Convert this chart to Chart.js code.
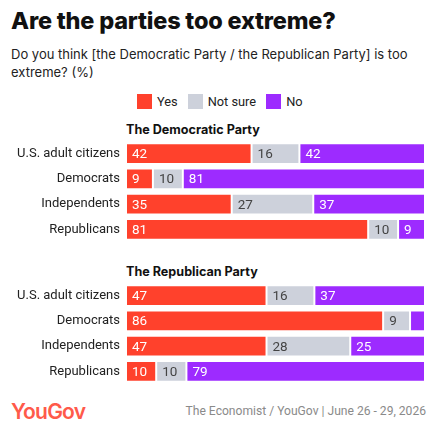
<!DOCTYPE html>
<html>
<head>
<meta charset="utf-8">
<script src="https://cdn.jsdelivr.net/npm/chart.js@4.4.1/dist/chart.umd.min.js"></script>
<style>
  html, body { margin: 0; padding: 0; background: #fff; }
  body { width: 437px; height: 433px; position: relative; overflow: hidden; font-family: Inter, "Noto Sans", sans-serif; color: #111; }
  .title { position: absolute; left: 11px; top: 6px; font-size: 23.5px; font-weight: 800; letter-spacing: -0.2px; }
  .subtitle { position: absolute; left: 11px; top: 45px; width: 420px; font-size: 13px; line-height: 18px; color: #222; }
  .legend { position: absolute; top: 94px; left: 137px; font-family: Roboto, sans-serif; font-size: 12.8px; color: #222; display: flex; align-items: center; }
  .legend span.sw { display: inline-block; width: 15px; height: 15px; margin-right: 5px; }
  .legend .item { display: flex; align-items: center; margin-right: 10px; }
  .section { position: absolute; left: 126px; font-size: 12.6px; font-weight: 700; color: #111; }
  .chartbox { position: absolute; left: 0; width: 437px; height: 101px; }
  .chartbox canvas { display: block; }
  .logo { position: absolute; left: 11px; top: 399px; font-size: 21px; font-weight: 600; color: #ff5a4a; letter-spacing: -0.8px; }
  .source { position: absolute; right: 11px; top: 404px; font-family: Roboto, sans-serif; font-size: 12.1px; color: #8a8a8a; }
</style>
</head>
<body>
<div class="title">Are the parties too extreme?</div>
<div class="subtitle">Do you think [the Democratic Party / the Republican Party] is too extreme? (%)</div>
<div class="legend" id="legend"></div>
<div class="section" style="top:122px">The Democratic Party</div>
<div class="chartbox" style="top:141px"><canvas id="chartDem" width="437" height="101"></canvas></div>
<div class="section" style="top:264px">The Republican Party</div>
<div class="chartbox" style="top:283px"><canvas id="chartRep" width="437" height="101"></canvas></div>
<div class="logo">YouGov</div>
<div class="source">The Economist / YouGov | June 26 - 29, 2026</div>

<script>
const groups = ['U.S. adult citizens', 'Democrats', 'Independents', 'Republicans'];
const seriesNames = ['Yes', 'Not sure', 'No'];
const seriesColors = ['#ff412c', '#cdd1db', '#9d2bff'];
const labelColors = ['#ffffff', '#444444', '#ffffff'];

// The Democratic Party
const demYes = [42, 9, 35, 81];
const demNotSure = [16, 10, 27, 10];
const demNo = [42, 81, 37, 9];

// The Republican Party
const repYes = [47, 86, 47, 10];
const repNotSure = [16, 9, 28, 10];
const repNo = [37, 5, 25, 79];

// legend
const legendEl = document.getElementById('legend');
seriesNames.forEach((name, i) => {
    const item = document.createElement('div');
    item.className = 'item';
    item.innerHTML = `<span class="sw" style="background:${seriesColors[i]}"></span>${name}`;
    legendEl.appendChild(item);
});

// draws the value inside each segment, left aligned
const segmentLabels = {
    id: 'segmentLabels',
    afterDatasetsDraw(chart) {
        const ctx = chart.ctx;
        ctx.save();
        ctx.font = '13.5px Roboto, sans-serif';
        ctx.textBaseline = 'middle';
        ctx.textAlign = 'left';
        chart.data.datasets.forEach((ds, di) => {
            const meta = chart.getDatasetMeta(di);
            meta.data.forEach((bar, i) => {
                const w = Math.abs(bar.x - bar.base);
                if (w < 20) return;
                ctx.fillStyle = labelColors[di];
                ctx.fillText(String(ds.raw[i]), Math.min(bar.x, bar.base) + 6, bar.y + 1);
            });
        });
        ctx.restore();
    }
};

function makeChart(id, rows) {
    const totals = groups.map((_, i) => rows.reduce((s, r) => s + r[i], 0));
    const datasets = rows.map((vals, si) => ({
        label: seriesNames[si],
        raw: vals,
        data: vals.map((v, i) => v / totals[i] * 100),
        backgroundColor: seriesColors[si],
        borderColor: 'rgba(255,255,255,0.55)',
        borderWidth: 1,
        borderSkipped: false,
        barPercentage: 0.82,
        categoryPercentage: 1
    }));
    return new Chart(document.getElementById(id), {
        type: 'bar',
        data: { labels: groups, datasets },
        plugins: [segmentLabels],
        options: {
            indexAxis: 'y',
            responsive: false,
            animation: false,
            layout: { padding: { left: 0, right: 12, top: 0, bottom: 0 } },
            plugins: { legend: { display: false }, tooltip: { enabled: false } },
            scales: {
                x: { stacked: true, min: 0, max: 100, display: false },
                y: {
                    stacked: true,
                    grid: { display: false, drawTicks: false },
                    border: { display: false },
                    afterFit: (scale) => {
                        scale.width = 126;
                        // labels sit in the middle of each band, no extra room needed
                        scale.paddingTop = 0;
                        scale.paddingBottom = 0;
                    },
                    ticks: {
                        color: '#222',
                        padding: 6,
                        font: { family: 'Roboto, sans-serif', size: 13 }
                    }
                }
            }
        }
    });
}

makeChart('chartDem', [demYes, demNotSure, demNo]);
makeChart('chartRep', [repYes, repNotSure, repNo]);
</script>
</body>
</html>
